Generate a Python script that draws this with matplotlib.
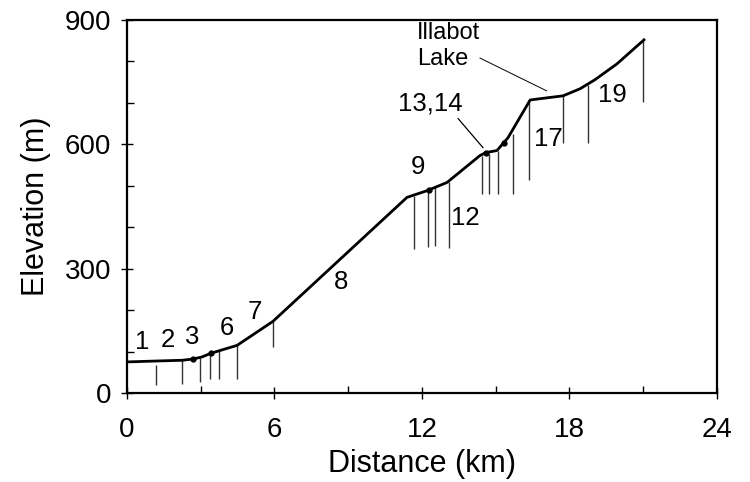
import matplotlib
matplotlib.use('Agg')
import matplotlib.pyplot as plt
from matplotlib.ticker import MultipleLocator

# elevation profile along the valley floor
dist_km = [0, 1.06, 2.24, 2.69, 3.05, 3.42, 4.48, 5.94, 11.39, 12.2, 13.02,
           14.36, 14.6, 15.05, 15.5, 16.4, 17.74, 18.43, 19.04, 19.93, 21.03]
elev_m = [75, 77, 79, 82, 87, 96, 115, 173, 472, 488, 508,
          573, 580, 585, 616, 707, 717, 734, 756, 794, 852]

# sites shown as vertical bars (top and bottom elevation)
site_km = [1.18, 2.23, 2.97, 3.38, 3.76, 4.49, 5.95, 11.68, 12.23, 12.53,
           13.11, 14.43, 14.73, 15.08, 15.69, 16.37, 17.75, 18.77, 21.0]
site_top = [67, 79, 84, 96, 104, 117, 174, 476, 488, 496,
            508, 573, 577, 583, 626, 707, 717, 744, 852]
site_bottom = [19, 22, 27, 33, 35, 33, 111, 348, 352, 354,
               351, 479, 479, 479, 479, 513, 602, 602, 701]

# small dots on the profile
dot_km = [2.69, 3.42, 12.29, 14.6, 15.34]
dot_m = [82, 96, 490, 580, 604]

# site numbers
site_labels = ['1', '2', '3', '6', '7', '8', '9', '12', '17', '19', '13,14']
label_km = [0.6, 1.68, 2.67, 4.08, 5.21, 8.69, 11.85, 13.78, 17.14, 19.76, 12.33]
label_m = [123, 127, 134, 156, 196, 268, 545, 423, 613, 719, 698]

plt.rcParams['font.family'] = ['Liberation Sans', 'DejaVu Sans']

fig = plt.figure(figsize=(7.5, 4.82), dpi=100)
ax = fig.add_axes([0.1693, 0.1846, 0.7867, 0.774])

ax.vlines(site_km, site_bottom, site_top, color='#333333', lw=1.0)
ax.plot(dist_km, elev_m, color='black', lw=2.0, solid_joinstyle='round')
ax.plot(dot_km, dot_m, 'o', color='black', ms=3.5)

for t, x, y in zip(site_labels, label_km, label_m):
    ax.text(x, y, t, ha='center', va='center', fontsize=18.5)

ax.text(11.8, 869, 'Illabot', ha='left', va='center', fontsize=17)
ax.text(11.8, 806, 'Lake', ha='left', va='center', fontsize=17)
ax.plot([14.36, 17.07], [808, 729], color='black', lw=0.7)
ax.plot([13.47, 14.48], [662, 592], color='black', lw=0.9)

ax.set_xlim(0, 24)
ax.set_ylim(0, 900)
ax.set_xticks([0, 6, 12, 18, 24])
ax.set_yticks([0, 300, 600, 900])
ax.xaxis.set_minor_locator(MultipleLocator(3))
ax.yaxis.set_minor_locator(MultipleLocator(100))
ax.tick_params(which='major', direction='inout', length=9, width=1.0,
               labelsize=20)
ax.tick_params(axis='x', which='major', pad=13)
ax.tick_params(axis='y', which='major', pad=7)
ax.tick_params(which='minor', direction='in', length=5, width=1.0)
for s in ax.spines.values():
    s.set_linewidth(1.6)

ax.set_xlabel('Distance (km)', fontsize=22, labelpad=4)
ax.set_ylabel('Elevation (m)', fontsize=22, labelpad=10)

fig.savefig('out.png', dpi=100)
